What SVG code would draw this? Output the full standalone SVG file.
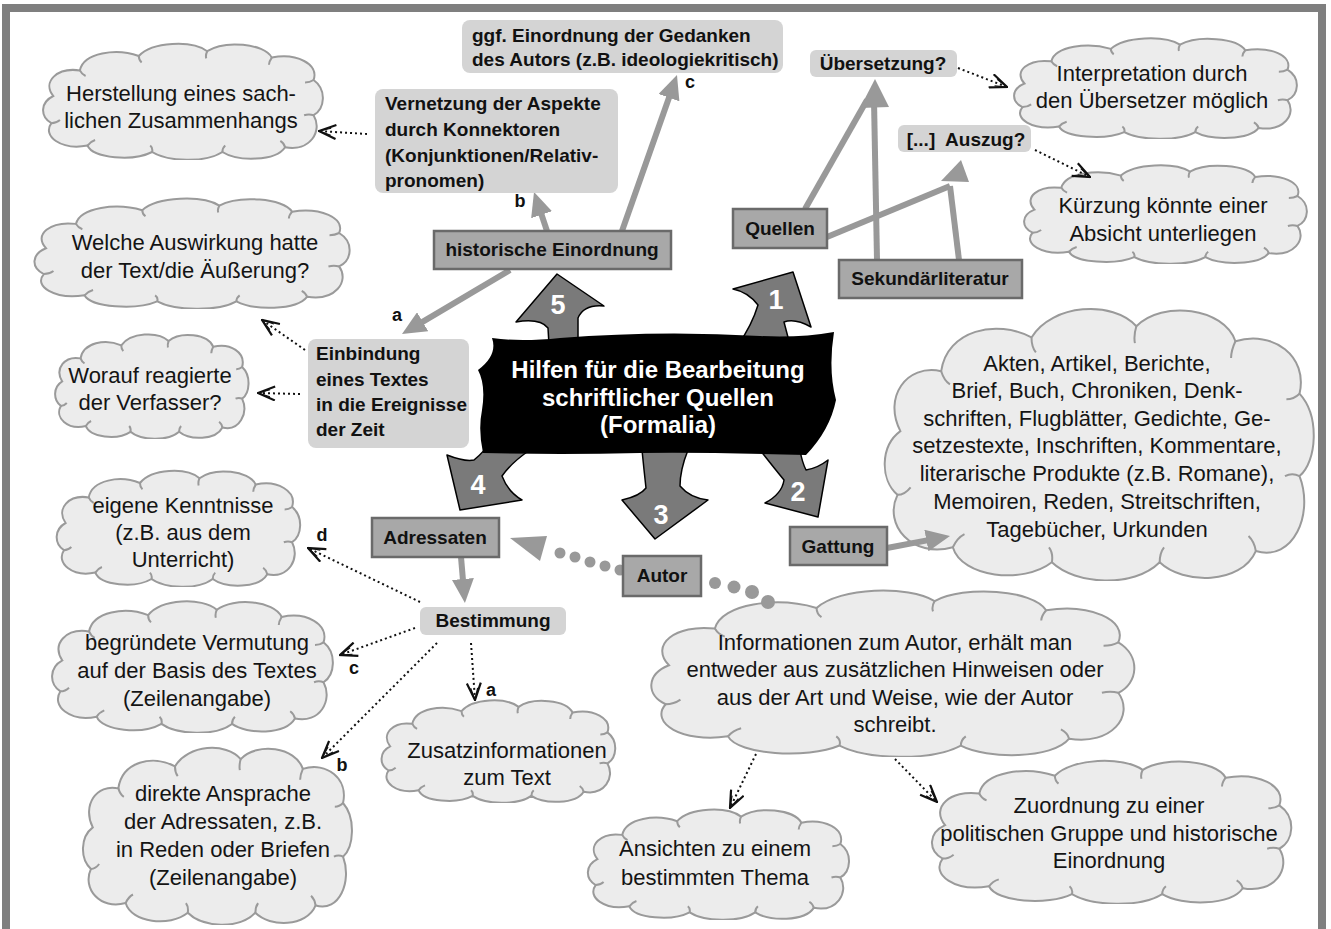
<svg xmlns="http://www.w3.org/2000/svg" width="1331" height="929" viewBox="0 0 1331 929">
<defs>
<style>
.ct{font-family:"Liberation Sans",Arial,sans-serif;font-size:22px;fill:#141414;text-anchor:middle}
.bt{font-family:"Liberation Sans",Arial,sans-serif;font-size:19px;font-weight:bold;fill:#111}
.mid{text-anchor:middle}
.lb{font-family:"Liberation Sans",Arial,sans-serif;font-size:18px;font-weight:bold;fill:#111;text-anchor:middle}
.box{fill:#a8a8a8;stroke:#6a6a6a;stroke-width:2.5}
.lbox{fill:#d4d4d4}
.gl{stroke:#999;stroke-width:6;fill:none}
.gla{stroke:#999;stroke-width:6;fill:none;marker-end:url(#ga)}
.gh{fill:#999}
.dl{stroke:#111;stroke-width:2;stroke-dasharray:2 3;fill:none;marker-end:url(#oa)}
.big{fill:#7a7a7a;stroke:#000;stroke-width:1.5;stroke-linejoin:round}
.num{font-family:"Liberation Sans",Arial,sans-serif;font-size:27px;font-weight:bold;fill:#fff;text-anchor:middle}
.ban{font-family:"Liberation Sans",Arial,sans-serif;font-size:24px;font-weight:bold;fill:#fff;text-anchor:middle}
.cl{fill:#ececec;stroke:#9a9a9a;stroke-width:2}
.cd{fill:none;stroke:#9a9a9a;stroke-width:2}
</style>
<marker id="oa" viewBox="0 0 20 16" refX="19" refY="8" markerWidth="20" markerHeight="16" markerUnits="userSpaceOnUse" orient="auto">
<path d="M2,1 L19,8 L2,15" fill="none" stroke="#111" stroke-width="2.2"/>
<path d="M7,4.5 L19,8 L7,11.5" fill="none" stroke="#111" stroke-width="1.2"/>
</marker>
<marker id="ga" viewBox="0 0 24 22" refX="6" refY="11" markerWidth="24" markerHeight="22" markerUnits="userSpaceOnUse" orient="auto">
<path d="M0,0 L24,11 L0,22 Z" fill="#999"/>
</marker>
<symbol id="cloud" viewBox="0 0 300 150" preserveAspectRatio="none">
<path class="cl" vector-effect="non-scaling-stroke" d="M14,70 C2,52 18,34 42,38 C46,16 80,10 104,20 C118,2 160,0 176,14 C194,0 236,4 244,22 C270,16 294,30 288,50 C302,62 300,86 288,94 C298,114 284,140 258,134 C248,152 208,152 192,140 C174,154 134,152 118,140 C98,152 56,148 50,132 C22,138 2,120 12,104 C0,96 0,78 14,70 Z"/>
<path class="cd" vector-effect="non-scaling-stroke" d="M42,38 q2,5 6,7 M104,20 q0,5 3,8 M176,14 q-2,5 -1,9 M244,22 q-3,5 -3,9 M288,50 q-4,3 -9,3 M288,94 q-5,-2 -10,0 M258,134 q-1,-5 -5,-8 M192,140 q0,-5 3,-8 M118,140 q1,-5 -2,-8 M50,132 q3,-5 8,-7 M12,104 q5,0 9,-4"/>
</symbol>
</defs>
<rect x="0" y="0" width="1331" height="929" fill="#fff"/>
<rect x="6" y="8" width="1316" height="960" fill="none" stroke="#7f7f7f" stroke-width="8"/>

<g id="clouds">
<g id="c-herstellung"><use href="#cloud" x="40" y="40" width="285" height="120"/>
<text class="ct" x="181" y="101">Herstellung eines sach-</text><text class="ct" x="181" y="128">lichen Zusammenhangs</text></g>
<g id="c-interpretation"><use href="#cloud" x="1011" y="35" width="288" height="104"/>
<text class="ct" x="1152" y="81">Interpretation durch</text><text class="ct" x="1152" y="108">den Übersetzer möglich</text></g>
<g id="c-kuerzung"><use href="#cloud" x="1021" y="162" width="288" height="102"/>
<text class="ct" x="1163" y="213">Kürzung könnte einer</text><text class="ct" x="1163" y="241">Absicht unterliegen</text></g>
<g id="c-welche"><use href="#cloud" x="31" y="195" width="321" height="114"/>
<text class="ct" x="195" y="250">Welche Auswirkung hatte</text><text class="ct" x="195" y="278">der Text/die Äußerung?</text></g>
<g id="c-worauf"><use href="#cloud" x="53" y="331" width="197" height="108"/>
<text class="ct" x="150" y="383">Worauf reagierte</text><text class="ct" x="150" y="410">der Verfasser?</text></g>
<g id="c-eigene"><use href="#cloud" x="54" y="467" width="248" height="120"/>
<text class="ct" x="183" y="513">eigene Kenntnisse</text><text class="ct" x="183" y="540">(z.B. aus dem</text><text class="ct" x="183" y="567">Unterricht)</text></g>
<g id="c-begruendete"><use href="#cloud" x="49" y="597" width="286" height="136"/>
<text class="ct" x="197" y="650">begründete Vermutung</text><text class="ct" x="197" y="678">auf der Basis des Textes</text><text class="ct" x="197" y="706">(Zeilenangabe)</text></g>
<g id="c-direkte"><use href="#cloud" x="80" y="742" width="274" height="183"/>
<text class="ct" x="223" y="801">direkte Ansprache</text><text class="ct" x="223" y="829">der Adressaten, z.B.</text><text class="ct" x="223" y="857">in Reden oder Briefen</text><text class="ct" x="223" y="885">(Zeilenangabe)</text></g>
<g id="c-zusatz"><use href="#cloud" x="379" y="697" width="238" height="106"/>
<text class="ct" x="507" y="758">Zusatzinformationen</text><text class="ct" x="507" y="785">zum Text</text></g>
<g id="c-info"><use href="#cloud" x="646" y="585" width="492" height="172"/>
<text class="ct" x="895" y="650">Informationen zum Autor, erhält man</text><text class="ct" x="895" y="677">entweder aus zusätzlichen Hinweisen oder</text><text class="ct" x="895" y="705">aus der Art und Weise, wie der Autor</text><text class="ct" x="895" y="732">schreibt.</text></g>
<g id="c-ansichten"><use href="#cloud" x="585" y="806" width="266" height="114"/>
<text class="ct" x="715" y="856">Ansichten zu einem</text><text class="ct" x="715" y="885">bestimmten Thema</text></g>
<g id="c-zuordnung"><use href="#cloud" x="928" y="756" width="366" height="148"/>
<text class="ct" x="1109" y="813">Zuordnung zu einer</text><text class="ct" x="1109" y="841">politischen Gruppe und historische</text><text class="ct" x="1109" y="868">Einordnung</text></g>
<g id="c-gattung"><use href="#cloud" x="880" y="300" width="437" height="281"/>
<text class="ct" x="1097" y="371">Akten, Artikel, Berichte,</text><text class="ct" x="1097" y="398">Brief, Buch, Chroniken, Denk-</text><text class="ct" x="1097" y="426">schriften, Flugblätter, Gedichte, Ge-</text><text class="ct" x="1097" y="453">setzestexte, Inschriften, Kommentare,</text><text class="ct" x="1097" y="481">literarische Produkte (z.B. Romane),</text><text class="ct" x="1097" y="509">Memoiren, Reden, Streitschriften,</text><text class="ct" x="1097" y="537">Tagebücher, Urkunden</text></g>
</g>

<g id="connectors">
<line class="gla" x1="547" y1="231" x2="539.7" y2="209.1"/>
<line class="gla" x1="622" y1="231" x2="671" y2="92"/>
<line class="gla" x1="510" y1="270" x2="417.5" y2="324.8"/>
<line class="gl" x1="805" y1="209" x2="867" y2="100"/>
<line class="gl" x1="877" y1="260" x2="874" y2="100"/>
<polygon class="gh" points="875,79 860,108 889,107"/>
<line class="gl" x1="827" y1="237" x2="950" y2="186"/>
<line class="gl" x1="959" y1="260" x2="950" y2="186"/>
<polygon class="gh" points="961,160 941,181 969,182"/>
<line class="gla" x1="461" y1="557" x2="463.4" y2="585"/>
<line class="gla" x1="887" y1="548" x2="932.3" y2="539.4"/>
<g fill="#999">
<circle cx="560" cy="553" r="5.5"/><circle cx="575" cy="557" r="5.5"/><circle cx="590" cy="562" r="5.5"/><circle cx="605" cy="566" r="5.5"/><circle cx="620" cy="570" r="5.5"/>
<polygon points="510,538 547,536 540,561"/>
<circle cx="715" cy="583" r="6"/><circle cx="734" cy="587" r="6.5"/><circle cx="752" cy="592" r="7"/><circle cx="768" cy="602" r="7"/>
</g>
<line class="dl" x1="367" y1="134" x2="319" y2="131"/>
<line class="dl" x1="958" y1="68" x2="1007" y2="87"/>
<line class="dl" x1="1035" y1="150" x2="1090" y2="177"/>
<line class="dl" x1="305" y1="350" x2="262" y2="320"/>
<line class="dl" x1="300" y1="394" x2="258" y2="393"/>
<line class="dl" x1="420" y1="602" x2="308" y2="548"/>
<line class="dl" x1="415" y1="628" x2="340" y2="655"/>
<line class="dl" x1="437" y1="643" x2="322" y2="758"/>
<line class="dl" x1="471" y1="643" x2="475" y2="700"/>
<line class="dl" x1="756" y1="754" x2="730" y2="808"/>
<line class="dl" x1="895" y1="759" x2="937" y2="802"/>
<text class="lb" x="520" y="207">b</text>
<text class="lb" x="690" y="88">c</text>
<text class="lb" x="397" y="321">a</text>
<text class="lb" x="322" y="541">d</text>
<text class="lb" x="354" y="674">c</text>
<text class="lb" x="342" y="771">b</text>
<text class="lb" x="491" y="696">a</text>
</g>

<g id="n-ggf"><rect class="lbox" x="462" y="20" width="321" height="53" rx="8"/>
<text class="bt" x="472" y="42">ggf. Einordnung der Gedanken</text><text class="bt" x="472" y="66">des Autors (z.B. ideologiekritisch)</text></g>
<g id="n-vernetzung"><rect class="lbox" x="375" y="89" width="243" height="104" rx="8"/>
<text class="bt" x="385" y="110">Vernetzung der Aspekte</text><text class="bt" x="385" y="136">durch Konnektoren</text><text class="bt" x="385" y="162">(Konjunktionen/Relativ-</text><text class="bt" x="385" y="187">pronomen)</text></g>
<g id="n-uebersetzung"><rect class="lbox" x="810" y="50" width="147" height="27" rx="6"/>
<text class="bt mid" x="883" y="70">Übersetzung?</text></g>
<g id="n-auszug"><rect class="lbox" x="898" y="125" width="133" height="27" rx="6"/>
<text class="bt mid" x="966" y="146" xml:space="preserve">[...]  Auszug?</text></g>
<g id="n-einbindung"><rect class="lbox" x="308" y="339" width="161" height="109" rx="8"/>
<text class="bt" x="316" y="360">Einbindung</text><text class="bt" x="316" y="386">eines Textes</text><text class="bt" x="316" y="411">in die Ereignisse</text><text class="bt" x="316" y="436">der Zeit</text></g>
<g id="n-bestimmung"><rect class="lbox" x="420" y="607" width="146" height="28" rx="6"/>
<text class="bt mid" x="493" y="627">Bestimmung</text></g>

<g id="n-historische"><rect class="box" x="434" y="231" width="237" height="38"/><text class="bt mid" x="552" y="256">historische Einordnung</text></g>
<g id="n-quellen"><rect class="box" x="733" y="209" width="94" height="39"/><text class="bt mid" x="780" y="235">Quellen</text></g>
<g id="n-sekundaer"><rect class="box" x="839" y="260" width="183" height="38"/><text class="bt mid" x="930" y="285">Sekundärliteratur</text></g>
<g id="n-adressaten"><rect class="box" x="372" y="518" width="127" height="39"/><text class="bt mid" x="435" y="544">Adressaten</text></g>
<g id="n-autor"><rect class="box" x="623" y="556" width="78" height="40"/><text class="bt mid" x="662" y="582">Autor</text></g>
<g id="n-gattung"><rect class="box" x="790" y="527" width="97" height="38"/><text class="bt mid" x="838" y="553">Gattung</text></g>

<g id="n-center">
<path class="big" d="M557,274 L604,306 Q584,304 578,318 L578,345 L549,345 L548,328 Q540,318 516,322 Z"/>
<path class="big" d="M793,272 L811,327 Q795,318 784,322 L790,345 L738,345 Q752,325 758,305 Q748,292 733,289 Z"/>
<path class="big" d="M818,517 L765,503 Q782,494 784,480 Q774,468 760,450 L800,450 Q802,462 806,470 Q818,468 828,460 Z"/>
<path class="big" d="M655,539 L622,500 Q640,496 646,488 Q644,470 642,450 L688,450 Q680,470 680,486 Q690,498 708,500 Z"/>
<path class="big" d="M460,510 L447,455 Q465,462 474,460 Q486,450 490,442 L530,450 Q512,462 502,476 Q508,492 522,500 Z"/>
<path fill="#000" d="M492,338 Q520,342 560,338 Q660,330 760,336 Q800,338 834,332 Q828,370 836,400 Q830,430 806,455 Q700,452 640,453 Q560,455 483,453 Q478,430 482,410 Q486,385 478,370 Q498,355 492,338 Z"/>
<text class="ban" x="658" y="378">Hilfen für die Bearbeitung</text>
<text class="ban" x="658" y="406">schriftlicher Quellen</text>
<text class="ban" x="658" y="433">(Formalia)</text>
<text class="num" x="558" y="314">5</text>
<text class="num" x="776" y="309">1</text>
<text class="num" x="798" y="501">2</text>
<text class="num" x="661" y="524">3</text>
<text class="num" x="478" y="494">4</text>
</g>
</svg>
